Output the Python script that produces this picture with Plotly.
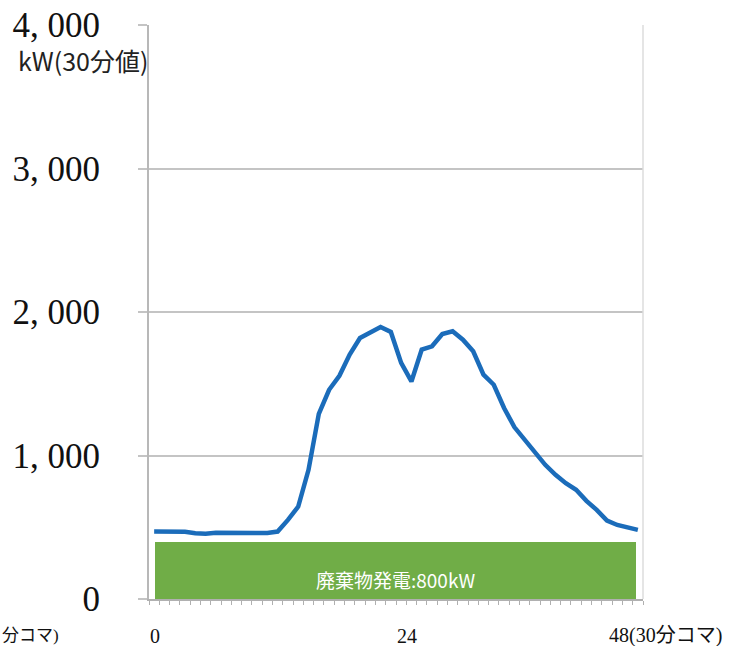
import plotly.graph_objects as go

# 30-minute slots over one day (48 slots)
slots = list(range(48))

# demand, kW (30-minute values)
demand_kw = [
    470, 470, 470, 468, 458, 455, 462, 462, 460, 459,
    462, 460, 470, 551, 644, 900, 1290, 1458, 1556, 1703,
    1819, 1854, 1896, 1861, 1645, 1516, 1738, 1761, 1847, 1866,
    1807, 1726, 1563, 1493, 1331, 1198, 1110, 1021, 935, 865,
    807, 761, 684, 621, 547, 516, 498, 482,
]

# constant waste-to-energy output, kW; plotted as the 30-minute value (kW x 0.5 h)
waste_kw = 800
waste_30min = waste_kw * 0.5

y_ticks = [0, 1000, 2000, 3000, 4000]
y_tick_text = ["0", "1, 000", "2, 000", "3, 000", "4, 000"]

x_labels = ["0", "24", "48(30分コマ)"]
x_label_pos = [0.1, 24.6, 44.5]

GRID = "#c4c4c4"
SERIF = "Liberation Serif, Noto Sans CJK JP, serif"
SANS = "Noto Sans CJK JP, Noto Sans, sans-serif"

fig = go.Figure()

fig.add_trace(go.Bar(
    x=[23.45], y=[waste_30min], width=[46.8],
    marker=dict(color="#70AD47", line=dict(width=0)),
    hoverinfo="skip", showlegend=False,
))

fig.add_trace(go.Scatter(
    x=slots, y=demand_kw, mode="lines",
    line=dict(color="#1B6CBA", width=4.5),
    showlegend=False,
))

fig.add_annotation(
    x=23.45, y=waste_30min * 0.34, xref="x", yref="y",
    text=f"廃棄物発電:{waste_kw}kW", showarrow=False,
    font=dict(family=SANS, size=19, color="white"),
)

for txt, pos in zip(x_labels, x_label_pos):
    anchor = "left" if "(" in txt else "center"
    fig.add_annotation(
        x=pos - (0.5 if anchor == "left" else 0), y=-0.064,
        xref="x", yref="paper", text=txt, showarrow=False,
        xanchor=anchor, yanchor="middle",
        font=dict(family=SERIF, size=20, color="#111111"),
    )

# unit of the slot axis, trailing off the left edge
fig.add_annotation(
    x=0, y=-0.064, xref="paper", yref="paper", xshift=-149,
    text="分コマ)", showarrow=False, xanchor="left", yanchor="middle",
    font=dict(family=SERIF, size=17, color="#111111"),
)

fig.add_annotation(
    x=0, y=0.939, xref="paper", yref="paper", xshift=-133,
    text="kW(30分値)", showarrow=False, xanchor="left", yanchor="middle",
    font=dict(family=SANS, size=25, color="#222222"),
)

# light right border of the plotting area
fig.add_shape(type="line", xref="paper", yref="paper", x0=1, x1=1, y0=0, y1=1,
              line=dict(color="#dcdcdc", width=1.5))

fig.update_layout(
    width=730, height=646,
    margin=dict(l=149, r=87, t=25, b=47, autoexpand=False),
    paper_bgcolor="white", plot_bgcolor="white",
    bargap=0,
    xaxis=dict(
        range=[-0.5, 47.5], showgrid=False, zeroline=False, automargin=False,
        showline=True, linecolor="#b0b0b0", linewidth=1.5,
        tick0=-0.5, dtick=48, ticks="outside", ticklen=4,
        tickcolor="#b0b0b0", showticklabels=False,
        minor=dict(tick0=-0.5, dtick=1, ticks="outside", ticklen=4,
                   tickcolor="#b0b0b0", showgrid=False),
    ),
    yaxis=dict(
        range=[0, 4000], tickmode="array", tickvals=y_ticks, ticktext=y_tick_text,
        showgrid=True, gridcolor=GRID, gridwidth=1.5, zeroline=False, automargin=False,
        showline=True, linecolor="#b8b8b8", linewidth=2,
        ticks="outside", ticklen=9, tickcolor=GRID, tickwidth=1.5,
        ticklabelstandoff=31,
        tickfont=dict(family=SERIF, size=35, color="#111111"),
    ),
)

fig.write_html("out.html")
